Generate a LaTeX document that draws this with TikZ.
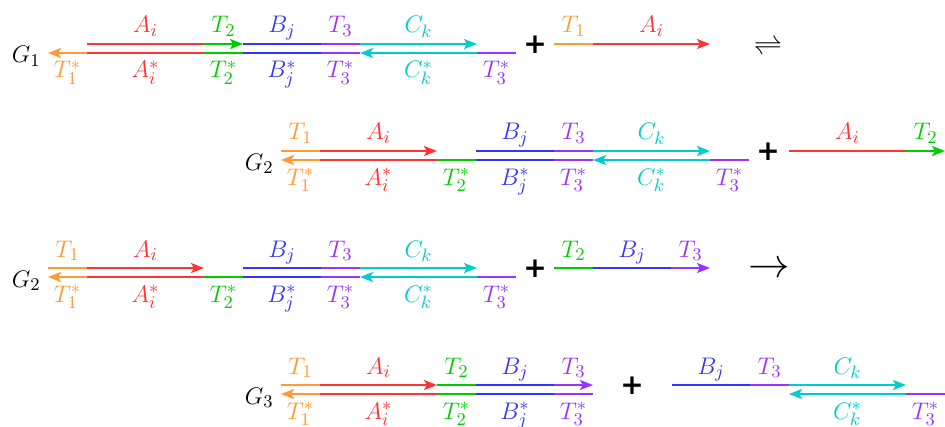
\documentclass[tikz,border=0pt]{standalone}
\usepackage{fontspec}
\newfontfamily\plusfont{DejaVu Sans}
\usetikzlibrary{arrows.meta,calc}
\definecolor{cT1}{RGB}{255,153,51}
\definecolor{cA}{RGB}{255,51,51}
\definecolor{cT2}{RGB}{0,204,0}
\definecolor{cB}{RGB}{51,51,255}
\definecolor{cT3}{RGB}{153,51,255}
\definecolor{cC}{RGB}{0,204,204}
\tikzset{
 seg/.style={line width=1.05pt},
 tip/.style={-{Stealth[length=6.5pt,width=5pt,inset=1.5pt]}},
 lab/.style={inner sep=0pt, anchor=base, font=\fontsize{12.5}{14}\selectfont},
 glab/.style={inner sep=0pt, anchor=base east, font=\fontsize{13}{15}\selectfont},
 plussign/.style={inner sep=0pt, font=\plusfont\bfseries\fontsize{14}{14}\selectfont},
}
\newcommand\strandpts[4]{\foreach \i/\d in {0/0,1/39,2/156,3/195,4/273,5/312,6/429,7/468}{\coordinate (#1t\i) at ({#2+\d},#3); \coordinate (#1b\i) at ({#2+\d},#4);}}
\newcommand\rowlabels[4]{\foreach \p/\c/\t [count=\n] in {#4}{\node[lab,text=\c] (#1\n) at ({#2+\p},#3) {$\t$};}}
\begin{document}
\begin{tikzpicture}[x=0.5pt,y=-0.5pt]
\useasboundingbox (0,0) rectangle (945,427);

% ---------------- Row 1 ----------------
\strandpts{P}{48}{44}{53}
\draw[seg,cA] (Pt1)--(Pt2);
\draw[seg,cT2,tip] (Pt2)--(Pt3);
\draw[seg,cB] (Pt3)--(Pt4);
\draw[seg,cT3] (Pt4)--(Pt5);
\draw[seg,cC,tip] (Pt5)--(Pt6);
\draw[seg,cT1,tip] (Pb1)--(Pb0);
\draw[seg,cA] (Pb1)--(Pb2);
\draw[seg,cT2] (Pb2)--(Pb3);
\draw[seg,cB] (Pb3)--(Pb4);
\draw[seg,cT3] (Pb4)--(Pb5);
\draw[seg,cC,tip] (Pb6)--(Pb5);
\draw[seg,cT3] (Pb6)--(Pb7);
\rowlabels{Pu}{48}{33}{97.5/cA/A_i,175.5/cT2/T_2,234/cB/B_j,292.5/cT3/T_3,370.5/cC/C_k}
\rowlabels{Pl}{48}{78}{19.5/cT1/T_1^*,97.5/cA/A_i^*,175.5/cT2/T_2^*,234/cB/B_j^*,292.5/cT3/T_3^*,370.5/cC/C_k^*,448.5/cT3/T_3^*}
\node[glab] (G1) at (41,63) {$G_1$};
\node[plussign] (plus1) at (535,45) {+};
\coordinate (Q0) at (554,44);
\coordinate (Q1) at (593,44);
\coordinate (Q2) at (710,44);
\draw[seg,cT1] (Q0)--(Q1);
\draw[seg,cA,tip] (Q1)--(Q2);
\rowlabels{Qu}{554}{33}{19.5/cT1/T_1,97.5/cA/A_i}
\node (eq) at (768,47) {\Large$\rightleftharpoons$};

% ---------------- Row 2 ----------------
\strandpts{R}{281}{151}{160}
\draw[seg,cT1] (Rt0)--(Rt1);
\draw[seg,cA,tip] (Rt1)--(Rt2);
\draw[seg,cB] (Rt3)--(Rt4);
\draw[seg,cT3] (Rt4)--(Rt5);
\draw[seg,cC,tip] (Rt5)--(Rt6);
\draw[seg,cT1,tip] (Rb1)--(Rb0);
\draw[seg,cA] (Rb1)--(Rb2);
\draw[seg,cT2] (Rb2)--(Rb3);
\draw[seg,cB] (Rb3)--(Rb4);
\draw[seg,cT3] (Rb4)--(Rb5);
\draw[seg,cC,tip] (Rb6)--(Rb5);
\draw[seg,cT3] (Rb6)--(Rb7);
\rowlabels{Ru}{281}{140}{19.5/cT1/T_1,97.5/cA/A_i,234/cB/B_j,292.5/cT3/T_3,370.5/cC/C_k}
\rowlabels{Rl}{281}{185}{19.5/cT1/T_1^*,97.5/cA/A_i^*,175.5/cT2/T_2^*,234/cB/B_j^*,292.5/cT3/T_3^*,370.5/cC/C_k^*,448.5/cT3/T_3^*}
\node[glab] (G2a) at (274,170) {$G_2$};
\node[plussign] (plus2) at (768,152) {+};
\coordinate (S0) at (789,151);
\coordinate (S1) at (906,151);
\coordinate (S2) at (945,151);
\draw[seg,cA] (S0)--(S1);
\draw[seg,cT2,tip] (S1)--(S2);
\rowlabels{Su}{789}{140}{58.5/cA/A_i,136.5/cT2/T_2}

% ---------------- Row 3 ----------------
\strandpts{U}{48}{268}{277}
\draw[seg,cT1] (Ut0)--(Ut1);
\draw[seg,cA,tip] (Ut1)--(Ut2);
\draw[seg,cB] (Ut3)--(Ut4);
\draw[seg,cT3] (Ut4)--(Ut5);
\draw[seg,cC,tip] (Ut5)--(Ut6);
\draw[seg,cT1,tip] (Ub1)--(Ub0);
\draw[seg,cA] (Ub1)--(Ub2);
\draw[seg,cT2] (Ub2)--(Ub3);
\draw[seg,cB] (Ub3)--(Ub4);
\draw[seg,cT3] (Ub4)--(Ub5);
\draw[seg,cC,tip] (Ub6)--(Ub5);
\draw[seg,cT3] (Ub6)--(Ub7);
\rowlabels{Uu}{48}{257}{19.5/cT1/T_1,97.5/cA/A_i,234/cB/B_j,292.5/cT3/T_3,370.5/cC/C_k}
\rowlabels{Ul}{48}{302}{19.5/cT1/T_1^*,97.5/cA/A_i^*,175.5/cT2/T_2^*,234/cB/B_j^*,292.5/cT3/T_3^*,370.5/cC/C_k^*,448.5/cT3/T_3^*}
\node[glab] (G2b) at (41,287) {$G_2$};
\node[plussign] (plus3) at (535,269) {+};
\coordinate (V0) at (554,268);
\coordinate (V1) at (593,268);
\coordinate (V2) at (671,268);
\coordinate (V3) at (710,268);
\draw[seg,cT2] (V0)--(V1);
\draw[seg,cB] (V1)--(V2);
\draw[seg,cT3,tip] (V2)--(V3);
\rowlabels{Vu}{554}{257}{19.5/cT2/T_2,78/cB/B_j,136.5/cT3/T_3}
\node (fwd) at (769,270) {\huge$\rightarrow$};

% ---------------- Row 4 ----------------
\strandpts{W}{281}{385}{394}
\draw[seg,cT1] (Wt0)--(Wt1);
\draw[seg,cA,tip] (Wt1)--(Wt2);
\draw[seg,cT2] (Wt2)--(Wt3);
\draw[seg,cB] (Wt3)--(Wt4);
\draw[seg,cT3,tip] (Wt4)--(Wt5);
\draw[seg,cT1,tip] (Wb1)--(Wb0);
\draw[seg,cA] (Wb1)--(Wb2);
\draw[seg,cT2] (Wb2)--(Wb3);
\draw[seg,cB] (Wb3)--(Wb4);
\draw[seg,cT3] (Wb4)--(Wb5);
\rowlabels{Wu}{281}{374}{19.5/cT1/T_1,97.5/cA/A_i,175.5/cT2/T_2,234/cB/B_j,292.5/cT3/T_3}
\rowlabels{Wl}{281}{419}{19.5/cT1/T_1^*,97.5/cA/A_i^*,175.5/cT2/T_2^*,234/cB/B_j^*,292.5/cT3/T_3^*}
\node[glab] (G3) at (274,404) {$G_3$};
\node[plussign] (plus4) at (632,386) {+};
\strandpts{X}{477}{385}{394}
\draw[seg,cB] (Xt3)--(Xt4);
\draw[seg,cT3] (Xt4)--(Xt5);
\draw[seg,cC,tip] (Xt5)--(Xt6);
\draw[seg,cC,tip] (Xb6)--(Xb5);
\draw[seg,cT3] (Xb6)--(Xb7);
\rowlabels{Xu}{477}{374}{234/cB/B_j,292.5/cT3/T_3,370.5/cC/C_k}
\rowlabels{Xl}{477}{419}{370.5/cC/C_k^*,448.5/cT3/T_3^*}
\end{tikzpicture}
\end{document}
